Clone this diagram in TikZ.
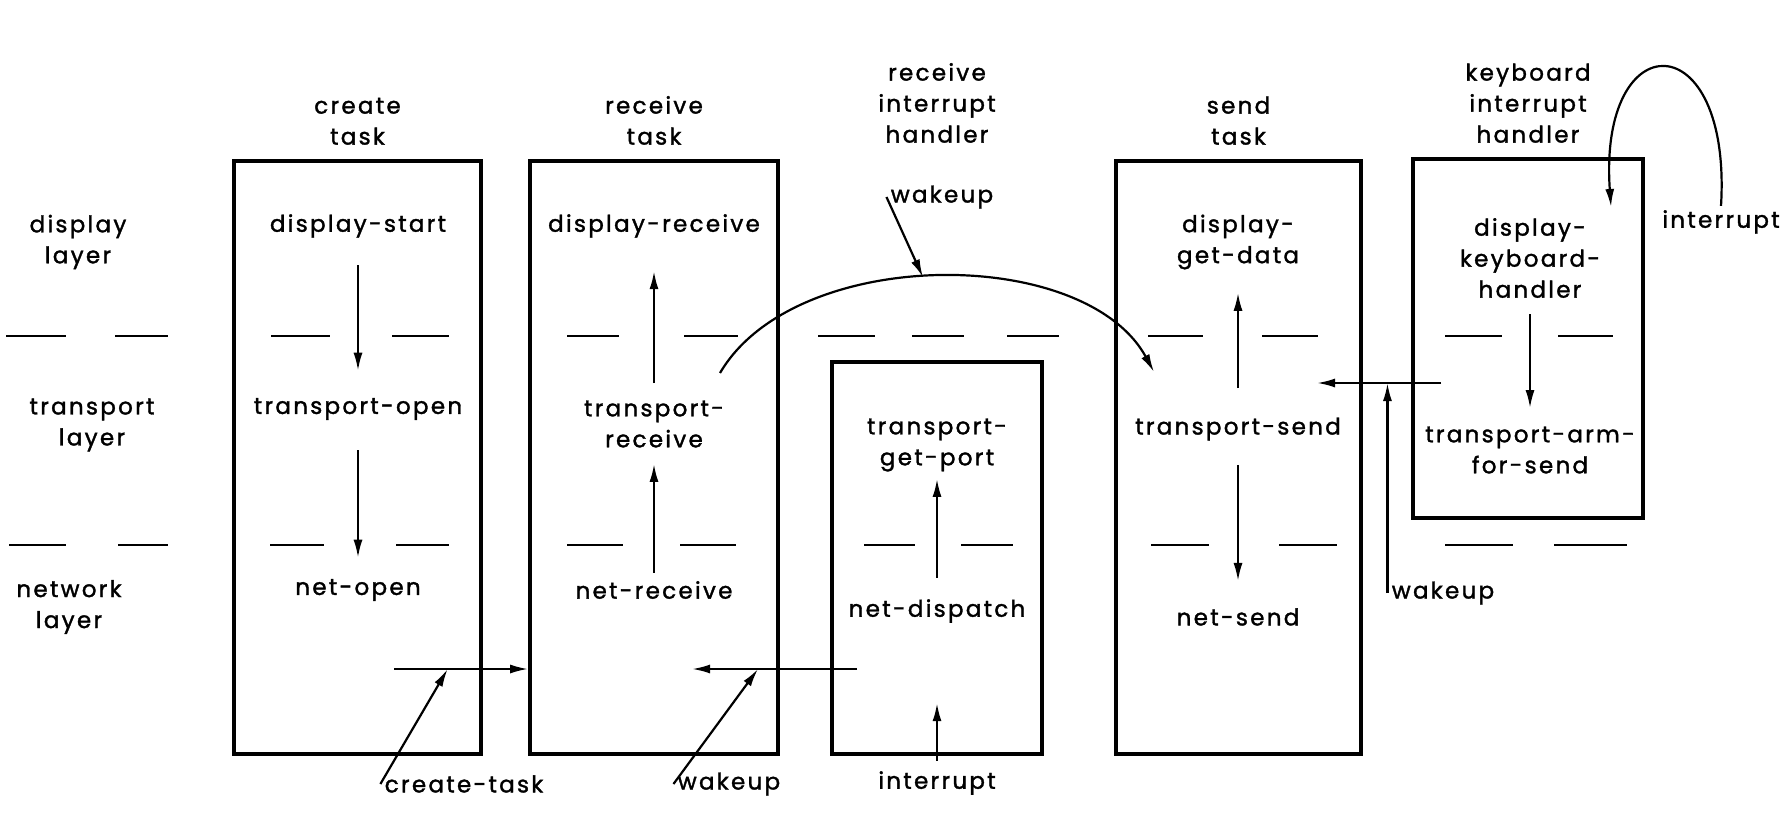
\documentclass[tikz,border=0pt]{standalone}
\usepackage{fontspec}
\setmainfont{Poppins}[LetterSpace=10, FakeBold=1.5]
\usepackage{tikz}
\usetikzlibrary{arrows.meta, positioning, fit}
\tikzset{
    taskbox/.style={draw, line width=1.8pt, inner sep=0pt},
    lbl/.style={align=center, font=\fontsize{11.5}{15.5}\selectfont, inner sep=2pt},
    arrow/.style={line width=1.1pt, -{Latex[length=9pt,width=4.5pt]}},
    layerline/.style={line width=1.4pt}
}

\begin{document}
\begin{tikzpicture}[x=0.5pt, y=-0.5pt]
    \useasboundingbox (0,0) rectangle (1792,824);

    % Task boxes
    \node [taskbox, fit={(234,161) (481,754)}] (cbox) {};
    \node [taskbox, fit={(530,161) (778,754)}] (rbox) {};
    \node [taskbox, fit={(832,362) (1042,754)}] (ibox) {};
    \node [taskbox, fit={(1116,161) (1361,754)}] (sbox) {};
    \node [taskbox, fit={(1413,159) (1643,518)}] (kbox) {};

    % Headers
    \node [lbl, above=5pt of cbox] (chead) {create\\task};
    \node [lbl, above=5pt of rbox] (rhead) {receive\\task};
    \node [lbl, above=5pt of sbox] (shead) {send\\task};
    \node [lbl, above=5pt of kbox] (khead) {keyboard\\interrupt\\handler};
    \node [lbl, anchor=south] (ihead) at (khead.south -| ibox) {receive\\interrupt\\handler};

    % Layer names
    \node [lbl] (ldisp) at (78,242) {display\\layer};
    \node [lbl] (ltrans) at (92,425) {transport\\layer};
    \node [lbl] (lnet) at (69,607) {network\\layer};

    % Layer boundaries
    \foreach \a/\b in {6/66, 115/168, 271/330, 392/449, 567/619, 684/738, 818/875,
                       912/964, 1007/1059, 1148/1203, 1262/1318, 1445/1502, 1558/1613}
        \draw [layerline] (\a,336) -- (\b,336);
    \foreach \a/\b in {9/66, 118/168, 270/324, 396/449, 567/623, 680/736, 864/915,
                       961/1013, 1151/1209, 1279/1337, 1445/1513, 1554/1627}
        \draw [layerline] (\a,545) -- (\b,545);

    % Procedures
    \node [lbl] (dstart) at (358,226) {display-start};
    \node [lbl] (topen) at (358,409) {transport-open};
    \node [lbl] (nopen) at (358,590) {net-open};
    \node [lbl] (drecv) at (654,226) {display-receive};
    \node [lbl] (trecv) at (654,424) {transport-\\receive};
    \node [lbl] (nrecv) at (654,590) {net-receive};
    \node [lbl] (tport) at (937,445) {transport-\\get-port};
    \node [lbl] (ndisp) at (937,611) {net-dispatch};
    \node [lbl] (dget) at (1238,242) {display-\\get-data};
    \node [lbl] (tsend) at (1238,429) {transport-send};
    \node [lbl] (nsend) at (1238,617) {net-send};
    \node [lbl] (dkey) at (1530,258) {display-\\keyboard-\\handler};
    \node [lbl] (tarm) at (1530,450) {transport-arm-\\for-send};

    % Calls within a task
    \draw [arrow, shorten <=11.5pt, shorten >=11.5pt] (dstart) -- (topen);
    \draw [arrow, shorten <=13pt, shorten >=8.5pt] (topen) -- (nopen);
    \draw [arrow, shorten <=6.5pt, shorten >=14.5pt] (trecv) -- (drecv);
    \draw [arrow, shorten <=2pt, shorten >=6pt] (nrecv) -- (trecv);
    \draw [arrow, shorten <=8.5pt, shorten >=1.5pt] (ndisp) -- (tport);
    \draw [arrow, shorten <=12.5pt, shorten >=9.5pt] (tsend) -- (dget);
    \draw [arrow, shorten <=10pt, shorten >=11.5pt] (tsend) -- (nsend);
    \draw [arrow, shorten <=6pt, shorten >=7pt] (dkey) -- (tarm);

    % Wakeup from receive handler to send task
    \coordinate (arcA) at (720,373);
    \coordinate (arcB) at (1154,372);
    \draw [arrow] (arcA) .. controls (795,245) and (1085,245) .. coordinate[pos=0.47] (arctop) (arcB);
    \node [lbl] (wkarc) at (942,197) {wakeup};
    \draw [arrow] (wkarc.west) -- (arctop);

    % Task creation
    \coordinate (ctA) at (394,669);
    \draw [arrow] (ctA) -- coordinate[pos=0.4] (ctB) (ctA -| rbox.west);
    \node [lbl] (ctlbl) at (464,784) {create-task};
    \draw [arrow] (ctlbl.west) -- (ctB);

    % Wakeup of receive task
    \coordinate (wkA) at (857,669);
    \coordinate (wkB) at (692,669);
    \draw [arrow] (wkA) -- coordinate[pos=0.6] (wkC) (wkB);
    \node [lbl] (wklbl) at (729,784) {wakeup};
    \draw [arrow] (wklbl.west) -- (wkC);

    % Receive interrupt
    \node [lbl] (ilbl) at (937,783) {interrupt};
    \draw [arrow, shorten <=3pt, shorten >=38pt] (ilbl) -- (ndisp);

    % Wakeup of send task
    \coordinate (kbA) at (1441,383);
    \coordinate (kbB) at (1317,383);
    \draw [arrow] (kbA) -- (kbB);
    \node [lbl] (wkkb) at (1443,593) {wakeup};
    \draw [arrow] (wkkb.west) -- (wkkb.west |- kbA);

    % Keyboard interrupt
    \node [lbl] (kint) at (1721,222) {interrupt};
    \coordinate (kintin) at (1611,207);
    \draw [arrow] (kint.north) .. controls (1732,22) and (1598,22) .. (kintin);
\end{tikzpicture}
\end{document}
